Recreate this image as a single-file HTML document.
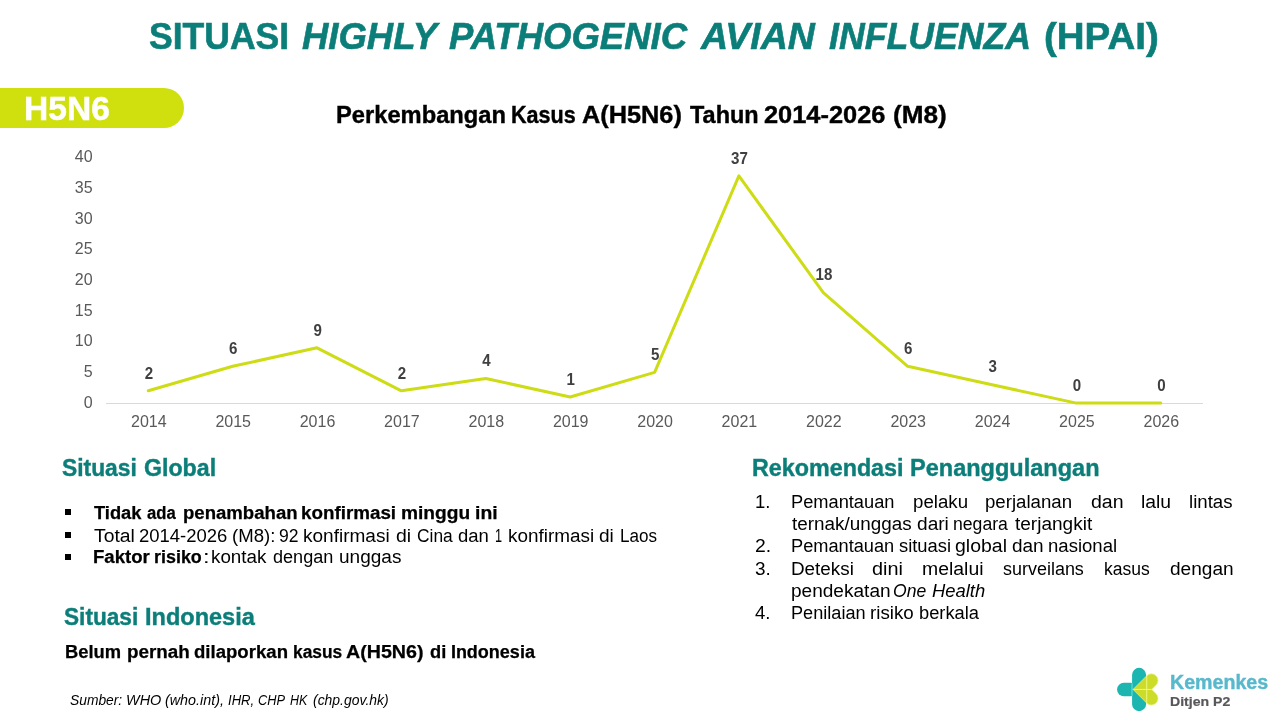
<!DOCTYPE html>
<html lang="id"><head><meta charset="utf-8"><title>Situasi Highly Pathogenic Avian Influenza (HPAI) - H5N6</title>
<style>
html,body{margin:0;padding:0;background:#fff;}
body{width:1280px;height:720px;position:relative;overflow:hidden;font-family:"Liberation Sans",sans-serif;}
h1,h2,p,ul,ol,li,section,footer{margin:0;padding:0;list-style:none;font:inherit;font-family:"Liberation Sans",sans-serif;}
.t{position:absolute;display:block;white-space:nowrap;line-height:1;transform-origin:0 0;}
.pill{position:absolute;left:0;top:88px;width:184px;height:40px;background:#cfe00e;border-radius:0 20px 20px 0;}
.bul{position:absolute;display:block;width:5.8px;height:5.8px;background:#000;left:64.8px;}
svg.plot{position:absolute;left:0;top:0;}
svg.logo{position:absolute;left:1110px;top:660px;}
.ax{font-family:"Liberation Sans",sans-serif;font-size:16px;fill:#595959;}
.dl{font-family:"Liberation Sans",sans-serif;font-size:16.6px;font-weight:bold;fill:#404040;}
.ttl{font-size:36px;color:#0c7e79;font-weight:bold;-webkit-text-stroke:0.6px #0c7e79;}
.tti{font-size:36px;color:#0c7e79;font-weight:bold;font-style:italic;-webkit-text-stroke:0.6px #0c7e79;}
.tag{font-size:33.5px;color:#ffffff;font-weight:bold;-webkit-text-stroke:0.5px #ffffff;}
.ct{font-size:24px;color:#000000;font-weight:bold;-webkit-text-stroke:0.4px #000000;}
.hd{font-size:23.3px;color:#0c7e79;font-weight:bold;-webkit-text-stroke:0.4px #0c7e79;}
.b{font-size:18px;color:#000000;}
.bb{font-size:18px;color:#000000;font-weight:bold;-webkit-text-stroke:0.25px #000000;}
.bi{font-size:18px;color:#000000;font-style:italic;}
.src{font-size:15px;color:#000000;font-style:italic;}
.k1{font-size:20px;color:#58b8cc;font-weight:bold;-webkit-text-stroke:0.4px #58b8cc;}
.k2{font-size:12.5px;color:#58585a;font-weight:bold;-webkit-text-stroke:0.2px #58585a;}
</style></head><body>
<h1>
<span class="t ttl" style="left:148.94px;top:18.92px;transform:scaleX(0.9869)">SITUASI</span>
<span class="t tti" style="left:301.93px;top:18.92px;transform:scaleX(1.0128)">HIGHLY</span>
<span class="t tti" style="left:448.93px;top:18.92px;transform:scaleX(1.0147)">PATHOGENIC</span>
<span class="t tti" style="left:701.17px;top:18.92px;transform:scaleX(1.0407)">AVIAN</span>
<span class="t tti" style="left:829.44px;top:18.92px;transform:scaleX(0.9898)">INFLUENZA</span>
<span class="t ttl" style="left:1044.20px;top:18.92px;transform:scaleX(1.0688)">(HPAI)</span>
</h1>
<div class="tagwrap"><div class="pill"></div>
<span class="t tag" style="left:23.50px;top:91.74px;transform:scaleX(1.0022)">H5N6</span>
</div>
<section class="chart">
<h2>
<span class="t ct" style="left:335.72px;top:102.68px;transform:scaleX(0.9876)">Perkembangan</span>
<span class="t ct" style="left:511.15px;top:102.68px;transform:scaleX(0.8985)">Kasus</span>
<span class="t ct" style="left:582.10px;top:102.68px;transform:scaleX(1.0542)">A(H5N6)</span>
<span class="t ct" style="left:690.00px;top:102.68px;transform:scaleX(0.9776)">Tahun</span>
<span class="t ct" style="left:764.21px;top:102.68px;transform:scaleX(1.0580)">2014-2026</span>
<span class="t ct" style="left:892.78px;top:102.68px;transform:scaleX(1.0881)">(M8)</span>
</h2>
<svg class="plot" width="1280" height="720" viewBox="0 0 1280 720">
<line x1="106.1" y1="403.5" x2="1203" y2="403.5" stroke="#d9d9d9" stroke-width="1"/>
<polyline fill="none" stroke="#cddc14" stroke-width="3" stroke-linejoin="round" stroke-linecap="round" points="148.3,390.8 232.7,366.3 317.0,347.8 401.4,390.8 485.8,378.5 570.2,397.0 654.6,372.4 738.9,175.9 823.3,292.6 907.7,366.3 992.1,384.7 1076.4,403.1 1160.8,403.1"/>
<g class="ax" text-anchor="end">
<text x="92.6" y="407.8">0</text>
<text x="92.6" y="377.1">5</text>
<text x="92.6" y="346.4">10</text>
<text x="92.6" y="315.7">15</text>
<text x="92.6" y="285.0">20</text>
<text x="92.6" y="254.3">25</text>
<text x="92.6" y="223.6">30</text>
<text x="92.6" y="192.9">35</text>
<text x="92.6" y="162.2">40</text>
</g>
<g class="ax" text-anchor="middle">
<text x="148.8" y="426.8">2014</text>
<text x="233.2" y="426.8">2015</text>
<text x="317.5" y="426.8">2016</text>
<text x="401.9" y="426.8">2017</text>
<text x="486.3" y="426.8">2018</text>
<text x="570.7" y="426.8">2019</text>
<text x="655.1" y="426.8">2020</text>
<text x="739.4" y="426.8">2021</text>
<text x="823.8" y="426.8">2022</text>
<text x="908.2" y="426.8">2023</text>
<text x="992.6" y="426.8">2024</text>
<text x="1076.9" y="426.8">2025</text>
<text x="1161.3" y="426.8">2026</text>
</g>
<g class="dl" text-anchor="middle">
<text transform="translate(148.9,378.5) scale(0.91,1)">2</text>
<text transform="translate(233.3,354.0) scale(0.91,1)">6</text>
<text transform="translate(317.6,335.5) scale(0.91,1)">9</text>
<text transform="translate(402.0,378.5) scale(0.91,1)">2</text>
<text transform="translate(486.4,366.2) scale(0.91,1)">4</text>
<text transform="translate(570.8,384.7) scale(0.91,1)">1</text>
<text transform="translate(655.2,360.1) scale(0.91,1)">5</text>
<text transform="translate(739.5,163.6) scale(0.91,1)">37</text>
<text transform="translate(823.9,280.3) scale(0.91,1)">18</text>
<text transform="translate(908.3,354.0) scale(0.91,1)">6</text>
<text transform="translate(992.7,372.4) scale(0.91,1)">3</text>
<text transform="translate(1077.0,390.8) scale(0.91,1)">0</text>
<text transform="translate(1161.4,390.8) scale(0.91,1)">0</text>
</g>
</svg>
</section>
<section class="left">
<h2>
<span class="t hd" style="left:62.04px;top:457.27px;transform:scaleX(0.9792)">Situasi</span>
<span class="t hd" style="left:143.78px;top:457.27px;transform:scaleX(0.9945)">Global</span>
</h2>
<ul>
<li><i class="bul" style="top:509.3px"></i>
<span class="t bb" style="left:94.00px;top:503.51px;transform:scaleX(1.0171)">Tidak</span>
<span class="t bb" style="left:146.74px;top:503.51px;transform:scaleX(0.9271)">ada</span>
<span class="t bb" style="left:182.59px;top:503.51px;transform:scaleX(1.0318)">penambahan</span>
<span class="t bb" style="left:301.32px;top:503.51px;transform:scaleX(1.0446)">konfirmasi</span>
<span class="t bb" style="left:400.80px;top:503.51px;transform:scaleX(1.0644)">minggu</span>
<span class="t bb" style="left:475.04px;top:503.51px;transform:scaleX(1.0766)">ini</span>
</li>
<li><i class="bul" style="top:532px"></i>
<span class="t b" style="left:94.20px;top:526.76px;transform:scaleX(1.0738)">Total</span>
<span class="t b" style="left:138.63px;top:526.76px;transform:scaleX(1.0265)">2014-2026</span>
<span class="t b" style="left:232.13px;top:526.76px;transform:scaleX(1.0310)">(M8):</span>
<span class="t b" style="left:279.18px;top:526.76px;transform:scaleX(0.9757)">92</span>
<span class="t b" style="left:303.31px;top:526.76px;transform:scaleX(1.0570)">konfirmasi</span>
<span class="t b" style="left:395.64px;top:526.76px;transform:scaleX(1.0807)">di</span>
<span class="t b" style="left:416.69px;top:526.76px;transform:scaleX(0.9645)">Cina</span>
<span class="t b" style="left:458.17px;top:526.76px;transform:scaleX(1.0278)">dan</span>
<span class="t b" style="left:494.71px;top:526.76px;transform:scaleX(0.7050)">1</span>
<span class="t b" style="left:507.57px;top:526.76px;transform:scaleX(1.0507)">konfirmasi</span>
<span class="t b" style="left:599.40px;top:526.76px;transform:scaleX(1.0603)">di</span>
<span class="t b" style="left:619.92px;top:526.76px;transform:scaleX(0.9484)">Laos</span>
</li>
<li><i class="bul" style="top:554.2px"></i>
<span class="t bb" style="left:93.24px;top:548.46px;transform:scaleX(1.0330)">Faktor</span>
<span class="t bb" style="left:154.18px;top:548.46px;transform:scaleX(0.9955)">risiko</span>
<span class="t b" style="left:202.74px;top:548.46px;transform:scaleX(1.3206)">:</span>
<span class="t b" style="left:211.33px;top:548.46px;transform:scaleX(1.0443)">kontak</span>
<span class="t b" style="left:273.19px;top:548.46px;transform:scaleX(1.0044)">dengan</span>
<span class="t b" style="left:338.81px;top:548.46px;transform:scaleX(1.0564)">unggas</span>
</li>
</ul>
<h2>
<span class="t hd" style="left:64.15px;top:606.27px;transform:scaleX(0.9711)">Situasi</span>
<span class="t hd" style="left:144.53px;top:606.27px;transform:scaleX(1.0098)">Indonesia</span>
</h2>
<p>
<span class="t bb" style="left:65.10px;top:642.76px;transform:scaleX(1.0182)">Belum</span>
<span class="t bb" style="left:126.82px;top:642.76px;transform:scaleX(1.0471)">pernah</span>
<span class="t bb" style="left:193.92px;top:642.76px;transform:scaleX(1.0325)">dilaporkan</span>
<span class="t bb" style="left:292.66px;top:642.76px;transform:scaleX(0.9658)">kasus</span>
<span class="t bb" style="left:345.99px;top:642.76px;transform:scaleX(1.0917)">A(H5N6)</span>
<span class="t bb" style="left:429.63px;top:642.76px;transform:scaleX(1.0160)">di</span>
<span class="t bb" style="left:450.88px;top:642.76px;transform:scaleX(1.0000)">Indonesia</span>
</p>
<p class="source">
<span class="t src" style="left:70.08px;top:692.30px;transform:scaleX(0.9208)">Sumber:</span>
<span class="t src" style="left:125.57px;top:692.30px;transform:scaleX(0.9638)">WHO</span>
<span class="t src" style="left:165.03px;top:692.30px;transform:scaleX(0.9547)">(who.int),</span>
<span class="t src" style="left:227.69px;top:692.30px;transform:scaleX(0.8732)">IHR,</span>
<span class="t src" style="left:257.90px;top:692.30px;transform:scaleX(0.8537)">CHP</span>
<span class="t src" style="left:290.41px;top:692.30px;transform:scaleX(0.8279)">HK</span>
<span class="t src" style="left:313.10px;top:692.30px;transform:scaleX(0.9288)">(chp.gov.hk)</span>
</p>
</section>
<section class="right">
<h2>
<span class="t hd" style="left:752.14px;top:456.87px;transform:scaleX(1.0002)">Rekomendasi</span>
<span class="t hd" style="left:910.03px;top:456.87px;transform:scaleX(1.0101)">Penanggulangan</span>
</h2>
<ol>
<li>
<span class="t b" style="left:755.24px;top:493.06px;transform:scaleX(1.0277)">1.</span>
<span class="t b" style="left:790.57px;top:493.06px;transform:scaleX(1.0135)">Pemantauan</span>
<span class="t b" style="left:912.93px;top:493.06px;transform:scaleX(1.0372)">pelaku</span>
<span class="t b" style="left:985.23px;top:493.06px;transform:scaleX(1.0362)">perjalanan</span>
<span class="t b" style="left:1090.79px;top:493.06px;transform:scaleX(1.0858)">dan</span>
<span class="t b" style="left:1140.79px;top:493.06px;transform:scaleX(1.0740)">lalu</span>
<span class="t b" style="left:1188.83px;top:493.06px;transform:scaleX(1.0364)">lintas</span>
<span class="t b" style="left:791.70px;top:515.26px;transform:scaleX(1.0483)">ternak/unggas</span>
<span class="t b" style="left:916.70px;top:515.26px;transform:scaleX(1.0614)">dari</span>
<span class="t b" style="left:952.50px;top:515.26px;transform:scaleX(0.9793)">negara</span>
<span class="t b" style="left:1014.60px;top:515.26px;transform:scaleX(1.0575)">terjangkit</span>
</li>
<li>
<span class="t b" style="left:754.59px;top:537.46px;transform:scaleX(1.0764)">2.</span>
<span class="t b" style="left:790.58px;top:537.46px;transform:scaleX(1.0114)">Pemantauan</span>
<span class="t b" style="left:898.71px;top:537.46px;transform:scaleX(1.0191)">situasi</span>
<span class="t b" style="left:954.89px;top:537.46px;transform:scaleX(1.0823)">global</span>
<span class="t b" style="left:1012.41px;top:537.46px;transform:scaleX(1.0541)">dan</span>
<span class="t b" style="left:1048.14px;top:537.46px;transform:scaleX(1.0303)">nasional</span>
</li>
<li>
<span class="t b" style="left:754.91px;top:559.66px;transform:scaleX(1.0528)">3.</span>
<span class="t b" style="left:790.53px;top:559.66px;transform:scaleX(1.0465)">Deteksi</span>
<span class="t b" style="left:871.88px;top:559.66px;transform:scaleX(1.1039)">dini</span>
<span class="t b" style="left:922.19px;top:559.66px;transform:scaleX(1.0784)">melalui</span>
<span class="t b" style="left:1003.22px;top:559.66px;transform:scaleX(0.9976)">surveilans</span>
<span class="t b" style="left:1103.51px;top:559.66px;transform:scaleX(0.9728)">kasus</span>
<span class="t b" style="left:1169.70px;top:559.66px;transform:scaleX(1.0600)">dengan</span>
<span class="t b" style="left:790.51px;top:581.86px;transform:scaleX(1.0582)">pendekatan</span>
<span class="t bi" style="left:893.48px;top:581.86px;transform:scaleX(0.9777)">One</span>
<span class="t bi" style="left:932.31px;top:581.86px;transform:scaleX(1.0231)">Health</span>
</li>
<li>
<span class="t b" style="left:755.21px;top:604.06px;transform:scaleX(1.0302)">4.</span>
<span class="t b" style="left:790.58px;top:604.06px;transform:scaleX(1.0078)">Penilaian</span>
<span class="t b" style="left:870.43px;top:604.06px;transform:scaleX(1.0411)">risiko</span>
<span class="t b" style="left:918.86px;top:604.06px;transform:scaleX(1.0168)">berkala</span>
</li>
</ol>
</section>
<footer>
<svg class="logo" width="60" height="60" viewBox="0 0 720 720">
<rect x="265" y="94" width="168" height="520" rx="84" fill="#1cb5b0"/>
<rect x="85" y="274" width="240" height="160" rx="80" fill="#1cb5b0"/>
<path d="M264,280 V430" stroke="#8eeee8" stroke-width="9" fill="none"/>
<path d="M277,353 L441.8,188.2 A79.2,79.2 0 0 1 553.8,300.2 L501,353 L553.8,405.8 A79.2,79.2 0 0 1 441.8,517.8 Z" fill="#ccdc29" stroke="#e6f490" stroke-width="9" stroke-linejoin="round"/>
<path d="M441,192 V514 M280,353 H500" stroke="#f3fa8a" stroke-width="11" fill="none"/>
</svg>
<span class="t k1" style="left:1170.07px;top:672.27px;transform:scaleX(0.9806)">Kemenkes</span>
<span class="t k2" style="left:1170.42px;top:695.72px;transform:scaleX(1.1261)">Ditjen P2</span>
</footer>
</body></html>
